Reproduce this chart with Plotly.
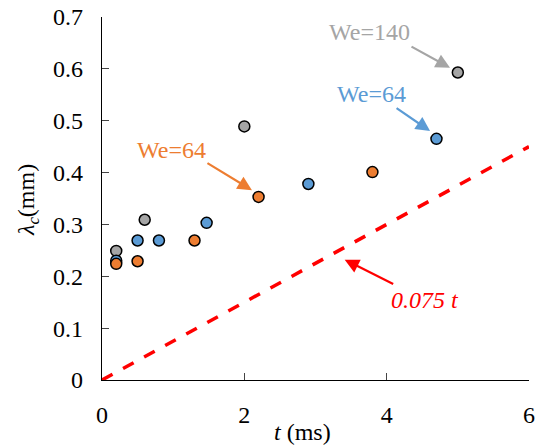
import plotly.graph_objects as go

# --- data ---
t_gray = [0.2, 0.6, 2.0, 5.0]
lam_gray = [0.249, 0.309, 0.489, 0.593]

t_blue = [0.2, 0.5, 0.8, 1.47, 2.9, 4.7]
lam_blue = [0.230, 0.269, 0.269, 0.303, 0.378, 0.465]

t_orange = [0.2, 0.5, 1.3, 2.2, 3.8]
lam_orange = [0.224, 0.229, 0.269, 0.353, 0.401]

slope = 0.075
t_fit = [0, 6]
lam_fit = [slope * v for v in t_fit]

x_ticks = [0, 2, 4, 6]
y_ticks = [0, 0.1, 0.2, 0.3, 0.4, 0.5, 0.6, 0.7]

GRAY = "#A5A5A5"
BLUE = "#5B9BD5"
ORANGE = "#ED7D31"
RED = "#FF0000"
FONT = "Liberation Serif, Times New Roman, serif"
FS = 24

W, H = 535, 446
L, R, T, B = 102, 6, 17, 66
pw, ph = W - L - R, H - T - B

fig = go.Figure()
fig.add_trace(go.Scatter(x=t_fit, y=lam_fit, mode="lines",
                         line=dict(color=RED, width=3.5, dash="12px,12px"), showlegend=False))
for xs, ys, c in [(t_gray, lam_gray, GRAY), (t_blue, lam_blue, BLUE), (t_orange, lam_orange, ORANGE)]:
    fig.add_trace(go.Scatter(x=xs, y=ys, mode="markers",
                             marker=dict(color=c, size=11, line=dict(color="black", width=1.5)),
                             showlegend=False))

ann = []
def label(x, y, text, color, italic=False):
    ann.append(dict(x=x, y=y, xref="x", yref="y", text=(f"<i>{text}</i>" if italic else text),
                    xanchor="center", yanchor="middle",
                    showarrow=False, font=dict(family=FONT, size=FS, color=color)))
def arrow(x, y, ax, ay, color):
    ann.append(dict(x=x, y=y, xref="x", yref="y", text="", showarrow=True,
                    ax=ax, ay=ay, arrowhead=2, arrowsize=1.3, arrowwidth=2.2, arrowcolor=color))

label(3.76, 0.671, "We=140", GRAY)
arrow(4.89, 0.602, -40, -22, GRAY)
label(3.78, 0.551, "We=64", BLUE)
arrow(4.61, 0.480, -35, -24, BLUE)
label(0.97, 0.443, "We=64", ORANGE)
arrow(2.107, 0.366, -46, -28, ORANGE)
label(4.54, 0.155, "0.075 t", RED, italic=True)
arrow(3.41, 0.232, 50, 25, RED)

# axis titles (pixel positions converted to paper coords)
ann.append(dict(x=(302 - L) / pw, y=(H - B - 432) / ph, xref="paper", yref="paper",
                xanchor="center", yanchor="middle",
                text="<i>t</i> (ms)", showarrow=False,
                font=dict(family=FONT, size=FS, color="black")))
ann.append(dict(x=(28 - L) / pw, y=(H - B - 200) / ph, xref="paper", yref="paper",
                xanchor="center", yanchor="middle",
                text="<i>λ<sub>c</sub></i>(mm)", showarrow=False, textangle=-90,
                font=dict(family=FONT, size=FS, color="black")))

fig.update_layout(
    width=W, height=H,
    margin=dict(l=L, r=R, t=T, b=B, autoexpand=False),
    paper_bgcolor="white", plot_bgcolor="white",
    font=dict(family=FONT, size=FS, color="black"),
    annotations=ann,
    xaxis=dict(range=[0, 6], tickvals=x_ticks, ticks="inside", ticklen=7, tickwidth=1.3,
               showline=True, linecolor="black", linewidth=1.3, showgrid=False, zeroline=False,
               tickfont=dict(family=FONT, size=FS), ticklabelstandoff=13, automargin=False,
               ticklabeloverflow="allow"),
    yaxis=dict(range=[0, 0.7], tickvals=y_ticks, ticks="inside", ticklen=7, tickwidth=1.3,
               showline=True, linecolor="black", linewidth=1.3, showgrid=False, zeroline=False,
               tickfont=dict(family=FONT, size=FS), ticklabelstandoff=13, automargin=False,
               ticklabeloverflow="allow"),
)
fig.write_html("out.html", config={"displayModeBar": False},
               post_script="document.body.style.margin='0';document.body.style.overflow='hidden';")
